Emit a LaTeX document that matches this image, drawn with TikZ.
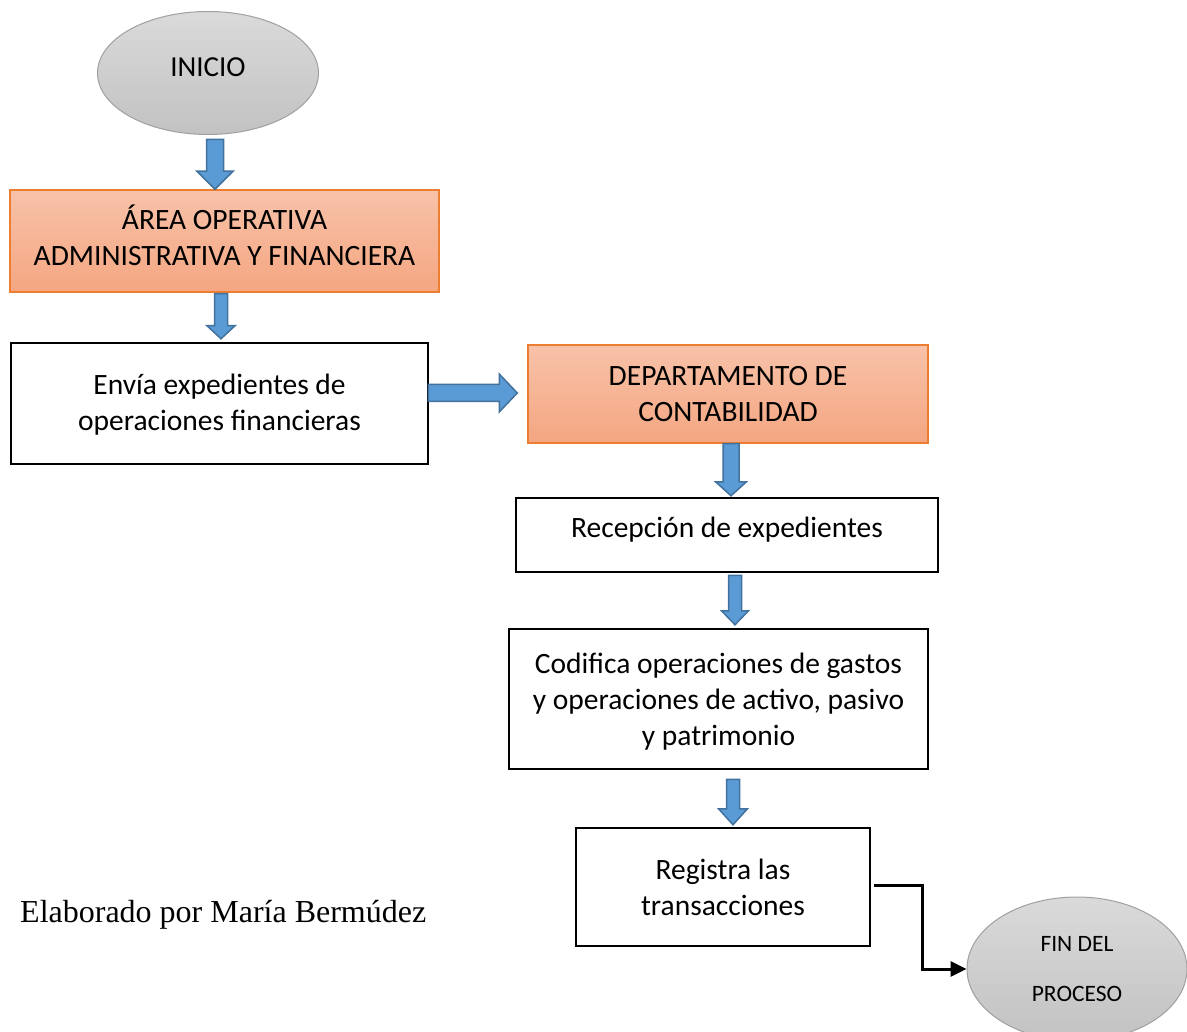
\documentclass[tikz,border=0pt]{standalone}
\usepackage{fontspec}
\setmainfont{Carlito}
\newfontfamily\timesfont{Liberation Serif}
\usetikzlibrary{calc,shapes.geometric,arrows.meta}

\definecolor{orangeedge}{HTML}{ED7D31}
\definecolor{orangetop}{HTML}{F8C2A9}
\definecolor{orangebot}{HTML}{F4A681}
\definecolor{greytop}{HTML}{DADADA}
\definecolor{greybot}{HTML}{C2C2C2}
\definecolor{greyedge}{HTML}{A0A0A0}
\definecolor{arrowfill}{HTML}{5B9BD5}
\definecolor{arrowedge}{HTML}{41719C}

\tikzset{
  txt/.style={font=\fontsize{29.5pt}{36pt}\selectfont, align=center, inner sep=0pt},
  terminal/.style={ellipse, draw=greyedge, line width=1pt, top color=greytop, bottom color=greybot, inner sep=0pt, align=center},
  orangebox/.style={txt, rectangle, draw=orangeedge, line width=1.5pt, top color=orangetop, bottom color=orangebot},
  whitebox/.style={txt, rectangle, draw=black, line width=2.5pt, fill=white},
  blockarrow/.style={fill=arrowfill, draw=arrowedge, line width=1.5pt, line join=miter},
  elbow/.style={draw=black, line width=3pt, -{Triangle[length=16pt,width=15pt]}}
}

% downward block arrow: #1 top point, #2 tip point, #3 half shaft, #4 half head, #5 head length
\newcommand\downblock[5]{%
  \path[blockarrow] let \p1=#1, \p2=#2 in
    (\x1-#3,\y1) -- (\x1+#3,\y1) -- (\x1+#3,\y2+#5) -- (\x1+#4,\y2+#5)
    -- (\x1,\y2) -- (\x1-#4,\y2+#5) -- (\x1-#3,\y2+#5) -- cycle;}
% rightward block arrow: #1 start point, #2 tip point, #3 half shaft, #4 half head, #5 head length
\newcommand\rightblock[5]{%
  \path[blockarrow] let \p1=#1, \p2=#2 in
    (\x1,\y1+#3) -- (\x2-#5,\y1+#3) -- (\x2-#5,\y1+#4) -- (\x2,\y1)
    -- (\x2-#5,\y1-#4) -- (\x2-#5,\y1-#3) -- (\x1,\y1-#3) -- cycle;}

\begin{document}
\begin{tikzpicture}[x=1pt,y=-1pt]
\useasboundingbox (0,0) rectangle (1187,1032);
\clip (0,0) rectangle (1187,1032);

% process nodes
\node[terminal, minimum width=221pt, minimum height=123pt,
      font=\fontsize{29pt}{36pt}\selectfont, text depth=12pt] (ini) at (208,73) {INICIO};
\node[orangebox, minimum width=429pt, minimum height=102pt, text depth=12pt] (area) at (224.5,241)
  {ÁREA OPERATIVA\\ADMINISTRATIVA Y FINANCIERA};
\node[whitebox, minimum width=417pt, minimum height=121pt, text depth=3pt] (env) at (219.5,403.5)
  {Envía expedientes de\\operaciones financieras};
\node[orangebox, minimum width=400pt, minimum height=98pt] (dep) at (728,394)
  {DEPARTAMENTO DE\\CONTABILIDAD};
\node[whitebox, minimum width=422pt, minimum height=74pt, text depth=15pt] (rec) at (727,535)
  {Recepción de expedientes};
\node[whitebox, minimum width=419pt, minimum height=140pt, text depth=0pt] (cod) at (718.5,699)
  {Codifica operaciones de gastos\\y operaciones de activo, pasivo\\y patrimonio};
\node[whitebox, minimum width=294pt, minimum height=118pt] (reg) at (723,887)
  {Registra las\\transacciones};
\node[terminal, minimum width=220pt, minimum height=144pt,
      font=\fontsize{23.5pt}{50pt}\selectfont] (fin) at (1077,969) {FIN DEL\\PROCESO};

% credit line
\node[font=\timesfont\fontsize{32pt}{38pt}\selectfont, anchor=base west, inner sep=0pt]
  (credit) at (20,922) {Elaborado por María Bermúdez};

% block arrows between the steps
\downblock{($(ini.south)+(7pt,-4.5pt)$)}{(area.north)}{8.5pt}{18pt}{18pt}
\downblock{($(area.south)+(-3.5pt,-1pt)$)}{($(env.north)+(0pt,3pt)$)}{6.5pt}{14pt}{13pt}
\rightblock{($(env.east)+(-1pt,10.5pt)$)}{($(dep.west)+(-10pt,0pt)$)}{8.5pt}{19pt}{18pt}
\downblock{($(dep.south)+(3pt,0pt)$)}{($(rec.north)+(0pt,1pt)$)}{8pt}{15.5pt}{14pt}
\downblock{($(rec.south)+(8pt,-2pt)$)}{($(cod.north)+(0pt,3pt)$)}{6.5pt}{13.5pt}{14pt}
\downblock{($(cod.south)+(14.5pt,-9pt)$)}{($(reg.north)+(0pt,2pt)$)}{6.5pt}{14.5pt}{16pt}

% elbow connector to the end
\draw[elbow] ($(reg.east)+(3pt,2pt)$) -- ++(48pt,0pt) |- (fin.west);
\end{tikzpicture}
\end{document}
